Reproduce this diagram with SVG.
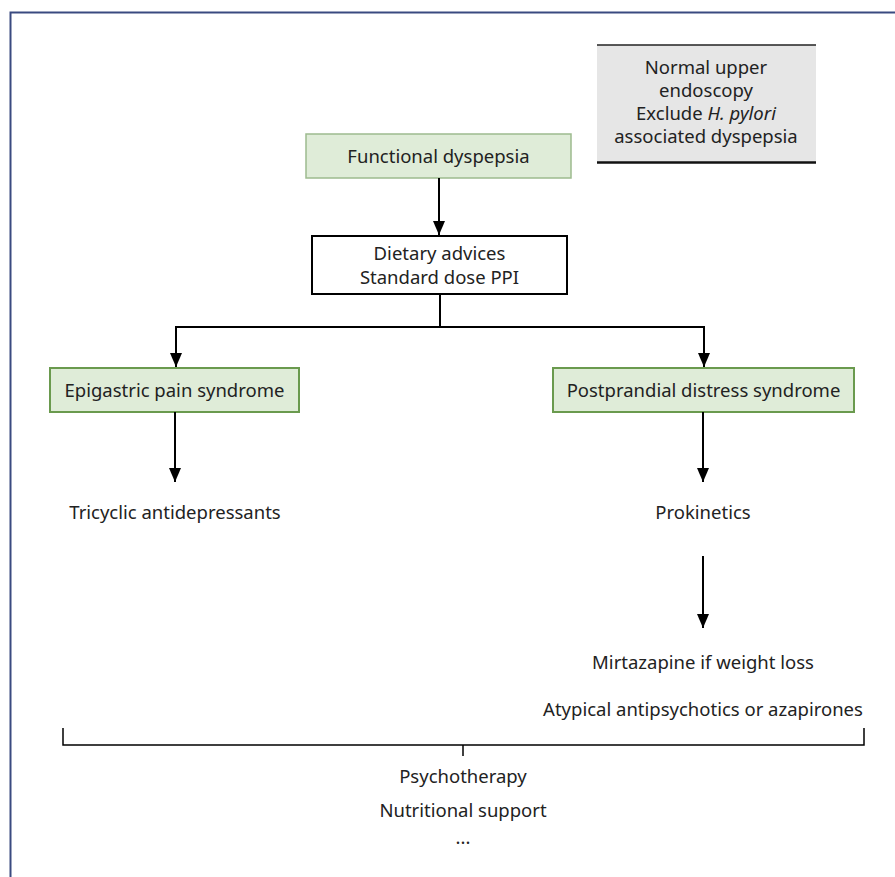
<svg xmlns="http://www.w3.org/2000/svg" width="895" height="877" viewBox="0 0 895 877">
<style>
text{font-family:"Noto Sans","Open Sans","DejaVu Sans",sans-serif;font-size:18.5px;fill:#222;text-anchor:middle}
.green{fill:#dfecd8;stroke:#6a9a4e;stroke-width:2}
.green-light{fill:#dfecd8;stroke:#9dbb8e;stroke-width:1.5}
.conn{stroke:#000;stroke-width:2;fill:none}
</style>
<defs>
<marker id="ah" viewBox="0 0 14 12" refX="14" refY="6" markerWidth="14" markerHeight="12" markerUnits="userSpaceOnUse" orient="auto">
<path d="M0,0 L14,6 L0,12 z" fill="#000"/>
</marker>
</defs>
<rect x="0" y="0" width="895" height="877" fill="#fff"/>
<path d="M10.5,877 V12.5 H895" fill="none" stroke="#3a4a80" stroke-width="2"/>
<g id="note">
<rect x="597" y="45" width="219" height="118" fill="#e6e6e6"/>
<line x1="597" y1="45" x2="816" y2="45" stroke="#222" stroke-width="1.5"/>
<line x1="597" y1="162.5" x2="816" y2="162.5" stroke="#111" stroke-width="2.5"/>
<text x="706" y="74">Normal upper</text>
<text x="706" y="97">endoscopy</text>
<text x="706" y="120">Exclude <tspan font-style="italic">H. pylori</tspan></text>
<text x="706" y="143">associated dyspepsia</text>
</g>
<g id="functional">
<rect class="green-light" x="306" y="134" width="265" height="44"/>
<text x="438.5" y="163">Functional dyspepsia</text>
</g>
<g id="dietary">
<rect x="312" y="236" width="255" height="58" fill="#fff" stroke="#000" stroke-width="2"/>
<text x="439.5" y="260">Dietary advices</text>
<text x="439.5" y="284">Standard dose PPI</text>
</g>
<g id="epigastric">
<rect class="green" x="50" y="368" width="249" height="44"/>
<text x="174.5" y="397">Epigastric pain syndrome</text>
</g>
<g id="postprandial">
<rect class="green" x="553" y="368" width="301" height="44"/>
<text x="703.5" y="397">Postprandial distress syndrome</text>
</g>
<g id="tricyclic"><text x="175" y="519">Tricyclic antidepressants</text></g>
<g id="prokinetics"><text x="703" y="519">Prokinetics</text></g>
<g id="mirtazapine"><text x="703" y="669">Mirtazapine if weight loss</text></g>
<g id="atypical"><text x="703" y="716">Atypical antipsychotics or azapirones</text></g>
<g id="common">
<text x="463" y="783">Psychotherapy</text>
<text x="463" y="817">Nutritional support</text>
<text x="463" y="844">...</text>
</g>
<g id="connectors">
<line class="conn" x1="439" y1="178" x2="439" y2="235" marker-end="url(#ah)"/>
<polyline class="conn" points="440,294 440,327 176,327 176,367" marker-end="url(#ah)"/>
<polyline class="conn" points="440,327 704,327 704,367" marker-end="url(#ah)"/>
<line class="conn" x1="175" y1="412" x2="175" y2="482" marker-end="url(#ah)"/>
<line class="conn" x1="703" y1="412" x2="703" y2="482" marker-end="url(#ah)"/>
<line class="conn" x1="703" y1="556" x2="703" y2="628" marker-end="url(#ah)"/>
<polyline fill="none" stroke="#000" stroke-width="1.5" points="63,728 63,745 864,745 864,728"/>
<line stroke="#000" stroke-width="1.5" x1="463" y1="745" x2="463" y2="756"/>
</g>
</svg>
